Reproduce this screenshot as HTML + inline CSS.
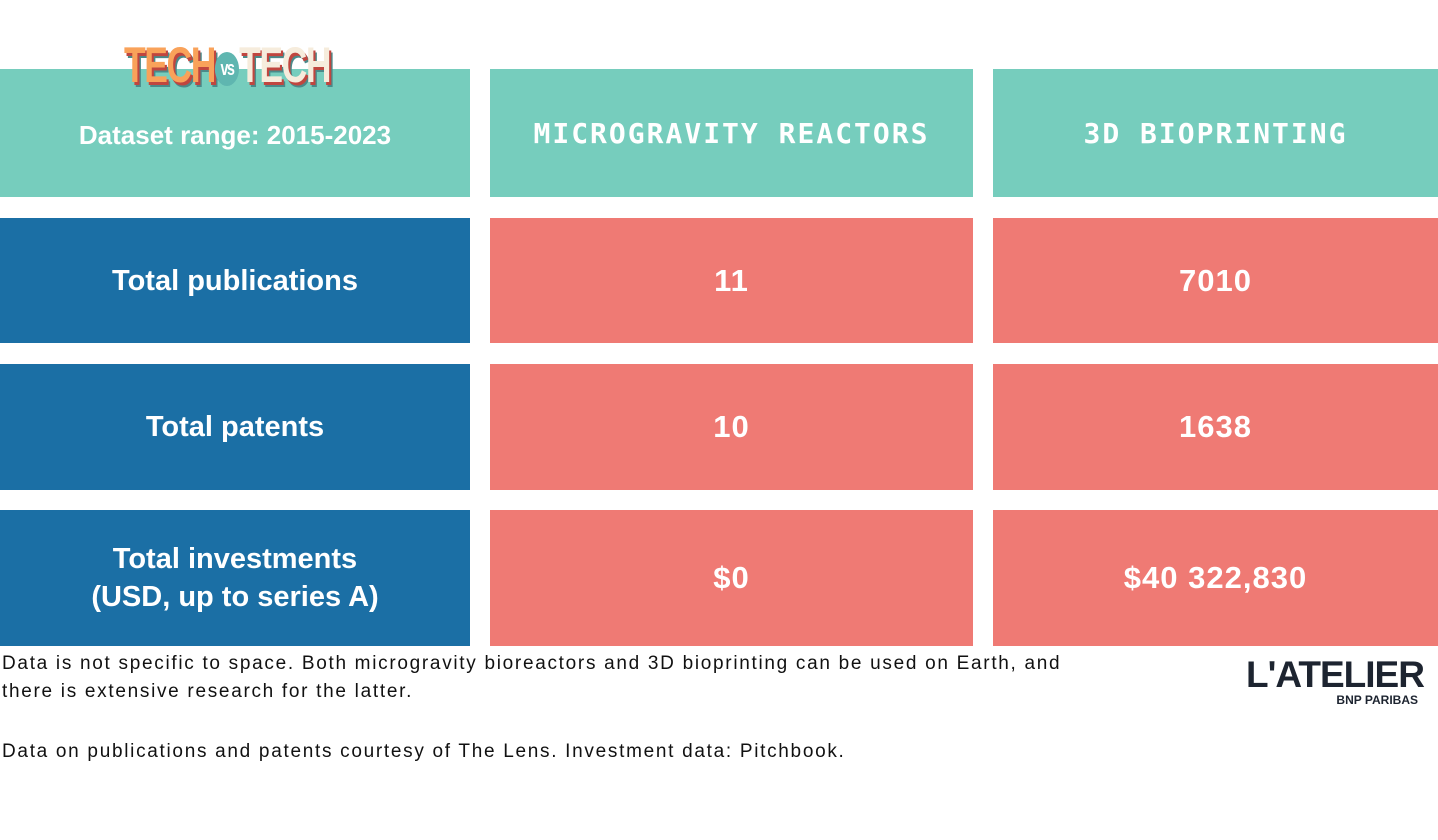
<!DOCTYPE html>
<html><head><meta charset="utf-8"><style>
body{margin:0;width:1438px;height:840px;background:#fff;position:relative;overflow:hidden;font-family:"Liberation Sans","DejaVu Sans",sans-serif}
.c{position:absolute;display:flex;align-items:center;justify-content:center;text-align:center;color:#fff;font-weight:bold}
.t{background:#76cdbd}.b{background:#1b6fa5;font-size:29px;line-height:38px}.s{background:#ef7a74;font-size:31px;letter-spacing:1px}
.h{font-size:28px;letter-spacing:2px;font-family:"DejaVu Sans Mono",monospace;font-weight:bold;text-transform:uppercase}
.note{position:absolute;left:2px;font-size:19px;color:#111;line-height:28px;letter-spacing:1.7px;white-space:nowrap}
</style></head><body>
<div class="c t" style="left:0;top:69px;width:470px;height:128px;font-size:26px;padding-top:4px;box-sizing:border-box">Dataset range: 2015-2023</div>
<div class="c t h" style="left:490px;top:69px;width:483px;height:128px">Microgravity Reactors</div>
<div class="c t h" style="left:993px;top:69px;width:445px;height:128px">3D Bioprinting</div>
<div style="position:absolute;left:124px;top:36px;font-family:'Liberation Sans';font-weight:bold;font-size:50px;letter-spacing:-2px;transform:scaleX(0.71);transform-origin:left;color:#f9a25a;text-shadow:3px 3px 0 #c0463f,5px 5px 0 #4a8a8a">TECH<span style="display:inline-block;width:34px;height:34px;border-radius:50%;background:#5fb6b0;color:#fff;font-size:20px;vertical-align:middle;text-align:center;line-height:34px;text-shadow:none">vs</span><span style="color:#f6ecdc">TECH</span></div>

<div class="c b" style="left:0;top:218px;width:470px;height:125px">Total publications</div>
<div class="c s" style="left:490px;top:218px;width:483px;height:125px">11</div>
<div class="c s" style="left:993px;top:218px;width:445px;height:125px">7010</div>

<div class="c b" style="left:0;top:364px;width:470px;height:126px">Total patents</div>
<div class="c s" style="left:490px;top:364px;width:483px;height:126px">10</div>
<div class="c s" style="left:993px;top:364px;width:445px;height:126px">1638</div>

<div class="c b" style="left:0;top:510px;width:470px;height:136px">Total investments<br>(USD, up to series A)</div>
<div class="c s" style="left:490px;top:510px;width:483px;height:136px">$0</div>
<div class="c s" style="left:993px;top:510px;width:445px;height:136px">$40 322,830</div>

<div class="note" style="top:650px">Data is not specific to space. Both microgravity bioreactors and 3D bioprinting can be used on Earth, and<br>there is extensive research for the latter.</div>
<div class="note" style="top:738px">Data on publications and patents courtesy of The Lens. Investment data: Pitchbook.</div>

<div style="position:absolute;left:1246px;top:656px;width:174px;text-align:right;color:#1d2430;font-weight:bold">
<div style="font-size:37px;line-height:38px;letter-spacing:-1px">L'ATELIER</div>
<div style="font-size:12px;line-height:12px;margin-right:2px">BNP PARIBAS</div></div>
</body></html>
